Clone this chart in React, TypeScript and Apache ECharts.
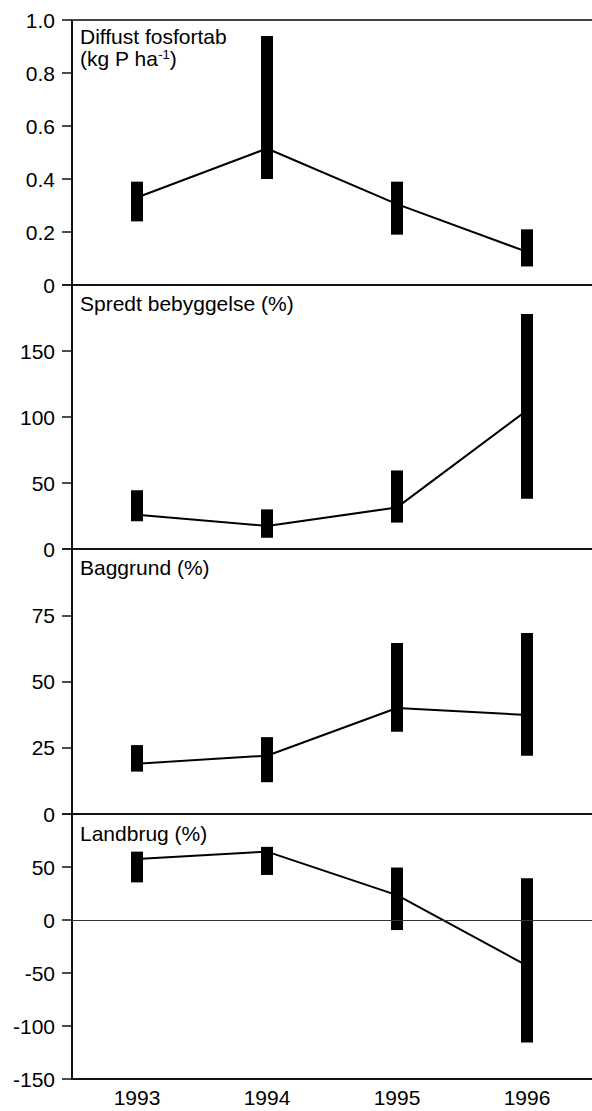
import React, { useEffect, useRef } from "react";
import * as echarts from "echarts";

const years = ["1993", "1994", "1995", "1996"];

const fosforMean = [0.33, 0.515, 0.305, 0.125];
const fosforLow = [0.24, 0.4, 0.19, 0.07];
const fosforHigh = [0.39, 0.94, 0.39, 0.21];

const spredtMean = [26, 17.5, 31.5, 105];
const spredtLow = [21, 8.5, 20, 38];
const spredtHigh = [44.5, 30, 59.5, 178];

const baggrundMean = [19, 22, 40, 37.4];
const baggrundLow = [16, 12, 31, 22];
const baggrundHigh = [26, 29, 64.5, 68.3];

const landbrugMean = [57.5, 64.5, 23.5, -43];
const landbrugLow = [35.5, 42.5, -9.5, -115.5];
const landbrugHigh = [64.5, 69, 49.5, 39.5];

const panelTitles = ["Spredt bebyggelse (%)", "Baggrund (%)", "Landbrug (%)"];

const yRanges = [
  { min: 0, max: 1, interval: 0.2 },
  { min: 0, max: 200, interval: 50 },
  { min: 0, max: 100, interval: 25 },
  { min: -150, max: 100, interval: 50 },
];

const FONT = "Liberation Sans, Arial, sans-serif";

export default function App() {
  const ref = useRef<HTMLDivElement>(null);

  useEffect(() => {
    if (!ref.current) return;
    const chart = echarts.init(ref.current, undefined, { renderer: "svg" });

    const panels = [
      { mean: fosforMean, low: fosforLow, high: fosforHigh },
      { mean: spredtMean, low: spredtLow, high: spredtHigh },
      { mean: baggrundMean, low: baggrundLow, high: baggrundHigh },
      { mean: landbrugMean, low: landbrugLow, high: landbrugHigh },
    ];

    const tops = [20, 285, 549, 814];
    const heights = [265, 264, 265, 265];

    const grids = tops.map((t, i) => ({
      left: 72,
      top: t,
      width: 529,
      height: heights[i],
    }));

    const lineColor = "#111";

    const xAxes: any[] = tops.map((_, i) => ({
      type: "category",
      gridIndex: i,
      data: years,
      boundaryGap: true,
      position: "bottom",
      axisLine: { show: true, onZero: false, lineStyle: { color: lineColor, width: 2 } },
      axisTick: { show: false },
      axisLabel: {
        show: i === 3,
        fontSize: 21,
        color: "#000",
        fontFamily: FONT,
        margin: 8,
      },
      splitLine: { show: false },
    }));
    xAxes.push({
      type: "category",
      gridIndex: 0,
      data: years,
      boundaryGap: true,
      position: "top",
      axisLine: { show: true, onZero: false, lineStyle: { color: "#444", width: 2 } },
      axisTick: { show: false },
      axisLabel: { show: false },
      splitLine: { show: false },
    });

    const yAxes = yRanges.map((r, i) => ({
      type: "value",
      gridIndex: i,
      min: r.min,
      max: r.max,
      interval: r.interval,
      axisLine: { show: true, onZero: false, lineStyle: { color: lineColor, width: 2 } },
      axisTick: { show: true, length: 10, lineStyle: { color: lineColor, width: 1.5 } },
      splitLine: { show: false },
      axisLabel: {
        fontSize: 21,
        color: "#000",
        fontFamily: FONT,
        margin: 17,
        formatter: (v: number) => {
          if (i > 0 && v === r.max) return "";
          if (i === 0) return v === 0 ? "0" : v.toFixed(1);
          return String(v);
        },
      },
    }));

    const series: any[] = [];
    panels.forEach((p, i) => {
      series.push({
        type: "custom",
        xAxisIndex: i,
        yAxisIndex: i,
        data: p.low.map((lo, k) => [k, lo, p.high[k]]),
        encode: { x: 0, y: [1, 2] },
        renderItem: (params: any, api: any) => {
          const x = api.value(0);
          const a = api.coord([x, api.value(1)]);
          const b = api.coord([x, api.value(2)]);
          const w = 12;
          return {
            type: "rect",
            shape: { x: a[0] - w / 2, y: b[1], width: w, height: a[1] - b[1] },
            style: { fill: "#000" },
          };
        },
        z: 3,
      });
      const lineSeries: any = {
        type: "line",
        xAxisIndex: i,
        yAxisIndex: i,
        data: p.mean,
        symbol: "none",
        lineStyle: { color: "#000", width: 2 },
        z: 2,
      };
      if (i === 3) {
        lineSeries.markLine = {
          silent: true,
          symbol: "none",
          label: { show: false },
          lineStyle: { color: "#333", width: 1, type: "solid" },
          data: [{ yAxis: 0 }],
        };
      }
      series.push(lineSeries);
    });

    const titleStyle = { fontSize: 21, fontFamily: FONT, fill: "#000" };
    const graphic: any[] = [
      {
        type: "text",
        left: 80,
        top: 26,
        style: { ...titleStyle, text: "Diffust fosfortab" },
      },
      {
        type: "text",
        left: 80,
        top: 48,
        style: {
          ...titleStyle,
          text: "(kg P ha{sup|-1})",
          rich: {
            sup: { fontSize: 13, fontFamily: FONT, fill: "#000", verticalAlign: "top", padding: [0, 0, 8, 0] },
          },
        },
      },
      ...panelTitles.map((t, k) => ({
        type: "text",
        left: 80,
        top: [293, 557, 823][k],
        style: { ...titleStyle, text: t },
      })),
    ];

    chart.setOption({
      animation: false,
      backgroundColor: "#fff",
      grid: grids,
      xAxis: xAxes,
      yAxis: yAxes,
      series,
      graphic,
    });

    return () => chart.dispose();
  }, []);

  return (
    <div
      ref={ref}
      style={{ position: "fixed", left: 0, top: 0, width: 592, height: 1111 }}
    />
  );
}
